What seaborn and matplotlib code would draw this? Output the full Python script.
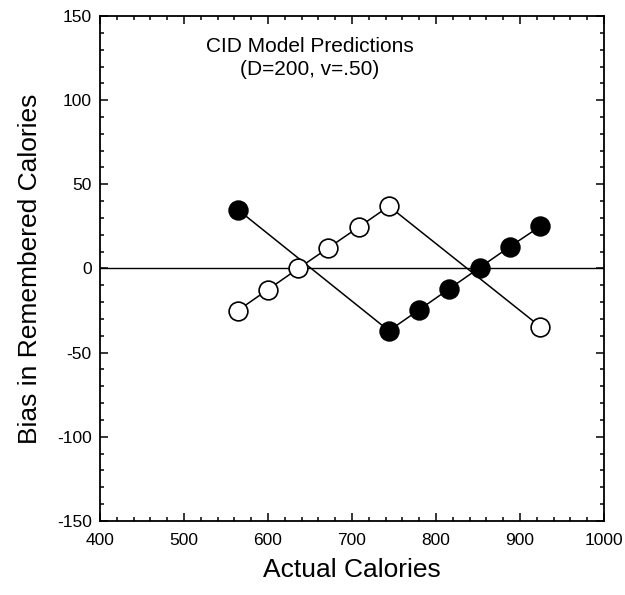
import matplotlib
matplotlib.use("Agg")
import matplotlib.pyplot as plt
from matplotlib.ticker import MultipleLocator
import seaborn as sns
import pandas as pd

# Data
filled_x = [564, 744, 780, 816, 852, 888, 924]
filled_y = [35, -37, -24.5, -12, 0.5, 13, 25]
open_x = [564, 600, 636, 672, 708, 744, 924]
open_y = [-25, -12.5, 0, 12.3, 24.6, 37, -34.5]
title_lines = ["CID Model Predictions", "(D=200, v=.50)"]
x_label = "Actual Calories"
y_label = "Bias in Remembered Calories"

sns.set_style("ticks")
plt.rcParams['font.family'] = ['Liberation Sans', 'DejaVu Sans']
plt.rcParams['axes.unicode_minus'] = False
plt.rcParams['text.color'] = 'black'
plt.rcParams['axes.labelcolor'] = 'black'

fig = plt.figure(figsize=(6.25, 5.95), dpi=100)
ax = fig.add_axes([0.16, 0.1244, 0.8064, 0.8487])

ax.axhline(0, color='black', lw=1.0, zorder=1)

df_f = pd.DataFrame({"x": filled_x, "y": filled_y})
df_o = pd.DataFrame({"x": open_x, "y": open_y})
sns.lineplot(data=df_f, x="x", y="y", ax=ax, color='black', lw=1.1,
             marker='o', markersize=13.5, markerfacecolor='black',
             markeredgecolor='black', markeredgewidth=1.2, estimator=None, sort=False, zorder=3)
sns.lineplot(data=df_o, x="x", y="y", ax=ax, color='black', lw=1.1,
             marker='o', markersize=13.5, markerfacecolor='white',
             markeredgecolor='black', markeredgewidth=1.2, estimator=None, sort=False, zorder=4)

ax.set_xlim(400, 1000)
ax.set_ylim(-150, 150)
ax.xaxis.set_major_locator(MultipleLocator(100))
ax.xaxis.set_minor_locator(MultipleLocator(20))
ax.yaxis.set_major_locator(MultipleLocator(50))
ax.yaxis.set_minor_locator(MultipleLocator(10))
ax.tick_params(which='both', direction='in', top=True, right=True, width=1.1,
               labelsize=12.5, colors='black')
ax.tick_params(axis='x', pad=9)
ax.tick_params(axis='y', pad=6)
ax.tick_params(which='major', length=5.5)
ax.tick_params(which='minor', length=3)
for s in ax.spines.values():
    s.set_linewidth(1.3)
    s.set_color('black')

ax.set_xlabel(x_label, fontsize=19, labelpad=7, color='black')
ax.set_ylabel(y_label, fontsize=19, labelpad=11, color='black')

ax.text(650, 125, "\n".join(title_lines), ha='center', va='center',
        multialignment='center', fontsize=15, linespacing=1.25, color='black')

fig.savefig("out.png", dpi=100)
